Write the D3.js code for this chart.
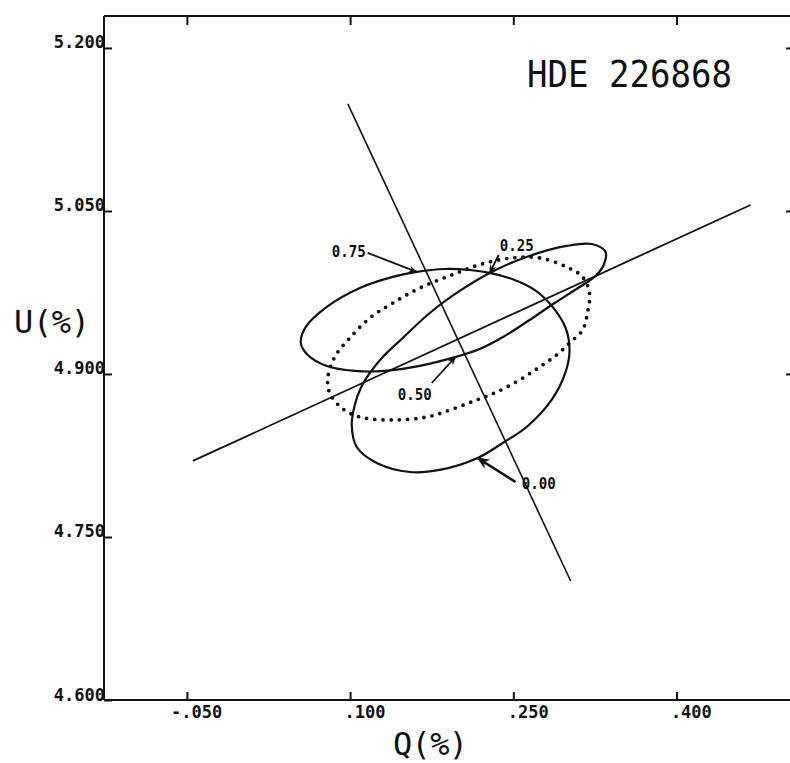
<!DOCTYPE html>
<html><head><meta charset="utf-8">
<script src="https://cdnjs.cloudflare.com/ajax/libs/d3/7.8.5/d3.min.js"></script>
<style>
html,body{margin:0;padding:0;background:#fff;}
svg{display:block;}
</style></head>
<body>
<script>
// ---------- DATA ----------
const title = "HDE 226868";
const xTitle = "Q(%)";
const yTitle = "U(%)";
const qLimits = [-0.1262, 0.508];
const uLimits = [4.6, 5.2294];
const xTicks = [-0.05, 0.10, 0.25, 0.40];
const xTickLabels = ["-.050", ".100", ".250", ".400"];
const yTicks = [4.60, 4.75, 4.90, 5.05, 5.20];
const yTickLabels = ["4.600", "4.750", "4.900", "5.050", "5.200"];

// observed Q-U loop (solid), in phase order starting at 0.00
const loopQ = [0.2172,0.1823,0.1548,0.1245,0.1061,0.1015,0.1043,0.1098,0.1181,0.1300,0.1484,0.1732,0.2007,0.2283,0.2622,0.2990,0.3219,0.3348,0.3330,0.3256,0.3109,0.2880,0.2650,0.2421,0.2191,0.1970,0.1640,0.1318,0.1043,0.0786,0.0611,0.0547,0.0593,0.0786,0.1089,0.1392,0.1612,0.1869,0.2099,0.2283,0.2512,0.2696,0.2861,0.2981,0.3017,0.2981,0.2852,0.2622,0.2402];
const loopU = [4.8227,4.8117,4.8098,4.8181,4.8328,4.8531,4.8715,4.8871,4.9009,4.9157,4.9331,4.9561,4.9764,4.9930,5.0077,5.0178,5.0196,5.0123,5.0003,4.9902,4.9800,4.9653,4.9497,4.9350,4.9230,4.9157,4.9074,4.9028,4.9028,4.9074,4.9175,4.9285,4.9433,4.9617,4.9791,4.9893,4.9939,4.9966,4.9957,4.9930,4.9865,4.9773,4.9617,4.9423,4.9221,4.9019,4.8761,4.8512,4.8365];

// dotted ellipse
const dotQ = [0.2494,0.2742,0.2990,0.3137,0.3201,0.3183,0.3137,0.3017,0.2898,0.2742,0.2558,0.2347,0.2163,0.1943,0.1704,0.1392,0.1089,0.0923,0.0813,0.0795,0.0859,0.0997,0.1181,0.1392,0.1640,0.1934,0.2209];
const dotU = [5.0068,5.0068,4.9985,4.9893,4.9745,4.9571,4.9405,4.9285,4.9175,4.9065,4.8945,4.8834,4.8761,4.8678,4.8604,4.8577,4.8604,4.8687,4.8825,4.8963,4.9157,4.9331,4.9515,4.9653,4.9791,4.9911,5.0012];

// straight lines
const steepLineQ = [0.0979, 0.3027];
const steepLineU = [5.1485, 4.7095];
const flatLineQ = [-0.0445, 0.468];
const flatLineU = [4.820, 5.0555];

// phase annotations
const phaseLabels = ["0.75", "0.25", "0.50", "0.00"];
const phaseTextQ = [0.0832, 0.2375, 0.1438, 0.2577];
const phaseTextU = [5.0077, 5.0132, 4.8761, 4.7942];
const phaseFromQ = [0.1162, 0.2365, 0.1750, 0.2521];
const phaseFromU = [5.0114, 5.0095, 4.8917, 4.8006];
const phaseTipQ = [0.1612, 0.2283, 0.1970, 0.2172];
const phaseTipU = [4.9939, 4.9930, 4.9157, 4.8227];

// ---------- DRAW ----------
const W = 790, H = 763;
const svg = d3.select("body").append("svg").attr("width", W).attr("height", H);
const x = d3.scaleLinear().domain(qLimits).range([104, 794]);
const y = d3.scaleLinear().domain(uLimits).range([700, 16]);
const ink = "#111";
const mono = "'DejaVu Sans Mono', 'Liberation Mono', monospace";

const defs = svg.append("defs");
function marker(id, size) {
  defs.append("marker").attr("id", id)
    .attr("viewBox", "0 0 10 10").attr("refX", 9).attr("refY", 5)
    .attr("markerWidth", size).attr("markerHeight", size)
    .attr("markerUnits", "userSpaceOnUse").attr("orient", "auto")
    .append("path").attr("d", "M0,1 L10,5 L0,9 L3,5 Z").attr("fill", ink);
}
marker("ah", 9);
marker("ahBig", 13);

// frame: top / left / bottom lines
const frame = svg.append("g").attr("stroke", ink).attr("stroke-width", 2).attr("fill", "none");
frame.append("line").attr("x1", x(qLimits[0])).attr("x2", x(qLimits[1])).attr("y1", y(uLimits[1])).attr("y2", y(uLimits[1]));
frame.append("line").attr("x1", x(qLimits[0])).attr("x2", x(qLimits[0])).attr("y1", y(uLimits[1])).attr("y2", y(uLimits[0]));
frame.append("line").attr("x1", x(qLimits[0])).attr("x2", x(qLimits[1])).attr("y1", y(uLimits[0])).attr("y2", y(uLimits[0]));

// bottom axis
const charW = 0.602 * 17;
const gx = svg.append("g").attr("transform", `translate(0,${y(uLimits[0])})`)
  .call(d3.axisBottom(x).tickValues(xTicks).tickSize(-8).tickSizeOuter(0)
    .tickFormat((d, i) => xTickLabels[i]));
gx.select(".domain").remove();
gx.selectAll(".tick line").attr("stroke", ink).attr("stroke-width", 2);
gx.selectAll(".tick text")
  .attr("font-family", mono).attr("font-size", 17).attr("font-weight", "bold").attr("fill", ink)
  .attr("text-anchor", "start").attr("y", 0).attr("dy", 0)
  .attr("x", (d, i) => -(xTickLabels[i].indexOf(".") + 0.5) * charW - 1)
  .attr("transform", "translate(0,18)");

// top ticks
const gt = svg.append("g").attr("transform", `translate(0,${y(uLimits[1])})`)
  .call(d3.axisTop(x).tickValues(xTicks).tickSize(-9).tickSizeOuter(0).tickFormat(""));
gt.select(".domain").remove();
gt.selectAll(".tick line").attr("stroke", ink).attr("stroke-width", 2);

// left axis
const gy = svg.append("g").attr("transform", `translate(${x(qLimits[0])},0)`)
  .call(d3.axisLeft(y).tickValues(yTicks).tickSize(-8).tickSizeOuter(0).tickPadding(-1)
    .tickFormat((d, i) => yTickLabels[i]));
gy.select(".domain").remove();
gy.selectAll(".tick line").attr("stroke", ink).attr("stroke-width", 2);
gy.selectAll(".tick text")
  .attr("font-family", mono).attr("font-size", 17).attr("font-weight", "bold").attr("fill", ink)
  .attr("dy", 0);

// right ticks
const gr = svg.append("g").attr("transform", `translate(${x(qLimits[1])},0)`)
  .call(d3.axisRight(y).tickValues(yTicks.slice(2)).tickSize(-8).tickSizeOuter(0).tickFormat(""));
gr.select(".domain").remove();
gr.selectAll(".tick line").attr("stroke", ink).attr("stroke-width", 2);

// straight lines
const lineGen = d3.line().x(d => x(d[0])).y(d => y(d[1]));
svg.append("path").datum(d3.zip(steepLineQ, steepLineU)).attr("d", lineGen)
  .attr("fill", "none").attr("stroke", ink).attr("stroke-width", 1.6);
svg.append("path").datum(d3.zip(flatLineQ, flatLineU)).attr("d", lineGen)
  .attr("fill", "none").attr("stroke", ink).attr("stroke-width", 1.8);

// dotted ellipse
const closed = d3.line().x(d => x(d[0])).y(d => y(d[1])).curve(d3.curveCatmullRomClosed.alpha(0.5));
svg.append("path").datum(d3.zip(dotQ, dotU)).attr("d", closed)
  .attr("fill", "none").attr("stroke", ink).attr("stroke-width", 3.8)
  .attr("stroke-linecap", "round").attr("stroke-dasharray", "0 8.2");

// solid loop
svg.append("path").datum(d3.zip(loopQ, loopU)).attr("d", closed)
  .attr("fill", "none").attr("stroke", ink).attr("stroke-width", 2.2).attr("stroke-linejoin", "round");

// phase annotations
phaseLabels.forEach((lab, i) => {
  svg.append("line")
    .attr("x1", x(phaseFromQ[i])).attr("y1", y(phaseFromU[i]))
    .attr("x2", x(phaseTipQ[i])).attr("y2", y(phaseTipU[i]))
    .attr("stroke", ink).attr("stroke-width", i === 3 ? 2.6 : 1.8)
    .attr("marker-end", i === 3 ? "url(#ahBig)" : "url(#ah)");
  svg.append("text").attr("x", x(phaseTextQ[i])).attr("y", y(phaseTextU[i]))
    .attr("font-family", mono).attr("font-size", 15).attr("font-weight", "bold").attr("fill", ink)
    .attr("textLength", 34).attr("lengthAdjust", "spacingAndGlyphs")
    .text(lab);
});

// titles
svg.append("text").attr("x", 527).attr("y", 87)
  .attr("font-family", mono).attr("font-size", 37).attr("fill", ink)
  .attr("textLength", 205).attr("lengthAdjust", "spacingAndGlyphs")
  .text(title);
svg.append("text").attr("x", 14).attr("y", 333)
  .attr("font-family", mono).attr("font-size", 32).attr("fill", ink)
  .attr("textLength", 76).attr("lengthAdjust", "spacing")
  .text(yTitle);
svg.append("text").attr("x", 393).attr("y", 755)
  .attr("font-family", mono).attr("font-size", 32).attr("fill", ink)
  .attr("textLength", 75).attr("lengthAdjust", "spacing")
  .text(xTitle);
</script>
</body></html>
